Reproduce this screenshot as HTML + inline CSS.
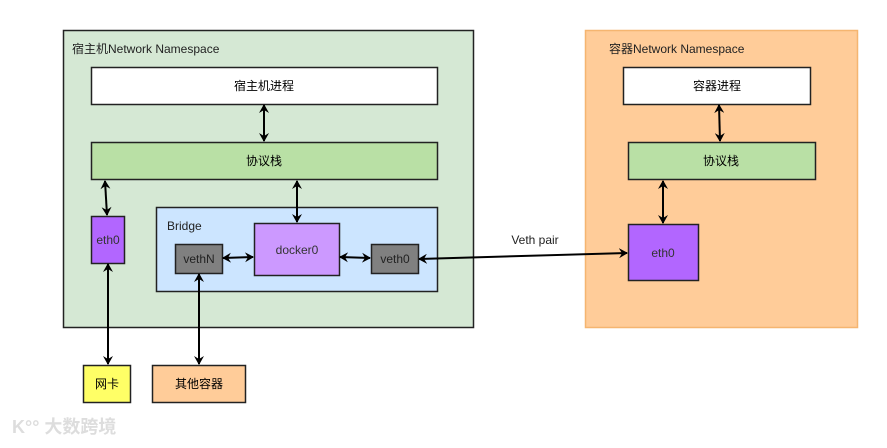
<!DOCTYPE html>
<html><head><meta charset="utf-8"><style>
body{margin:0;background:#fff;width:887px;height:443px;overflow:hidden;font-family:"Liberation Sans","Noto Sans CJK SC",sans-serif}
</style></head><body>
<svg width="887" height="443" xmlns="http://www.w3.org/2000/svg" font-family="Liberation Sans, Noto Sans CJK SC, sans-serif" font-size="12">
<defs><marker id="a" markerWidth="10" markerHeight="10" refX="8" refY="5" orient="auto-start-reverse" markerUnits="userSpaceOnUse"><path d="M0,0 L9,5 L0,10 L3,5 z" fill="#000"/></marker></defs>
<rect x="63.5" y="30.5" width="410" height="297" fill="#d5e8d4" stroke="#222" stroke-width="1.5"/>
<text x="72" y="53" fill="#222">宿主机Network Namespace</text>
<rect x="91.5" y="67.5" width="346" height="37" fill="#fff" stroke="#222" stroke-width="1.5"/>
<text x="264" y="90" text-anchor="middle">宿主机进程</text>
<rect x="91.5" y="142.5" width="346" height="37" fill="#b9e0a5" stroke="#222" stroke-width="1.5"/>
<text x="264" y="165" text-anchor="middle">协议栈</text>
<rect x="91.5" y="216.5" width="33" height="47" fill="#b266ff" stroke="#222" stroke-width="1.5"/>
<text x="108" y="244" text-anchor="middle" fill="#333">eth0</text>
<rect x="156.5" y="207.5" width="281" height="84" fill="#cce5ff" stroke="#222" stroke-width="1.5"/>
<text x="167" y="230" fill="#222">Bridge</text>
<rect x="254.5" y="223.5" width="85" height="52" fill="#cc99ff" stroke="#222" stroke-width="1.5"/>
<text x="297" y="254" text-anchor="middle" fill="#333">docker0</text>
<rect x="175.5" y="244.5" width="47" height="29" fill="#808080" stroke="#222" stroke-width="1.5"/>
<text x="199" y="263" text-anchor="middle" fill="#222">vethN</text>
<rect x="371.5" y="244.5" width="47" height="29" fill="#808080" stroke="#222" stroke-width="1.5"/>
<text x="395" y="263" text-anchor="middle" fill="#222">veth0</text>
<rect x="585.5" y="30.5" width="272" height="297" fill="#ffcc99" stroke="#f5b570" stroke-width="1.5"/>
<text x="609" y="53" fill="#222">容器Network Namespace</text>
<rect x="623.5" y="67.5" width="187" height="37" fill="#fff" stroke="#222" stroke-width="1.5"/>
<text x="717" y="90" text-anchor="middle">容器进程</text>
<rect x="628.5" y="142.5" width="187" height="37" fill="#b9e0a5" stroke="#222" stroke-width="1.5"/>
<text x="721" y="165" text-anchor="middle">协议栈</text>
<rect x="628.5" y="224.5" width="70" height="56" fill="#b266ff" stroke="#222" stroke-width="1.5"/>
<text x="663" y="257" text-anchor="middle" fill="#333">eth0</text>
<rect x="83.5" y="365.5" width="47" height="37" fill="#ffff66" stroke="#222" stroke-width="1.5"/>
<text x="107" y="388" text-anchor="middle">网卡</text>
<rect x="152.5" y="365.5" width="93" height="37" fill="#ffcc99" stroke="#222" stroke-width="1.5"/>
<text x="199" y="388" text-anchor="middle">其他容器</text>
<text x="535" y="244" text-anchor="middle" fill="#222">Veth pair</text>
<g stroke="#000" stroke-width="2" fill="none">
<line x1="264" y1="105" x2="264" y2="141" marker-start="url(#a)" marker-end="url(#a)"/>
<line x1="105" y1="181" x2="107" y2="215" marker-start="url(#a)" marker-end="url(#a)"/>
<line x1="297" y1="181" x2="297" y2="222" marker-start="url(#a)" marker-end="url(#a)"/>
<line x1="223" y1="258" x2="253" y2="257" marker-start="url(#a)" marker-end="url(#a)"/>
<line x1="340" y1="257" x2="370" y2="258" marker-start="url(#a)" marker-end="url(#a)"/>
<line x1="419" y1="259" x2="627" y2="253" marker-start="url(#a)" marker-end="url(#a)"/>
<line x1="719" y1="105" x2="720" y2="141" marker-start="url(#a)" marker-end="url(#a)"/>
<line x1="663" y1="181" x2="663" y2="223" marker-start="url(#a)" marker-end="url(#a)"/>
<line x1="108" y1="264" x2="108" y2="364" marker-start="url(#a)" marker-end="url(#a)"/>
<line x1="199" y1="274" x2="199" y2="364" marker-start="url(#a)" marker-end="url(#a)"/>
</g>
<text x="12" y="433" font-size="18" fill="#ddd" font-weight="bold">K°° 大数跨境</text>
</svg>
</body></html>
